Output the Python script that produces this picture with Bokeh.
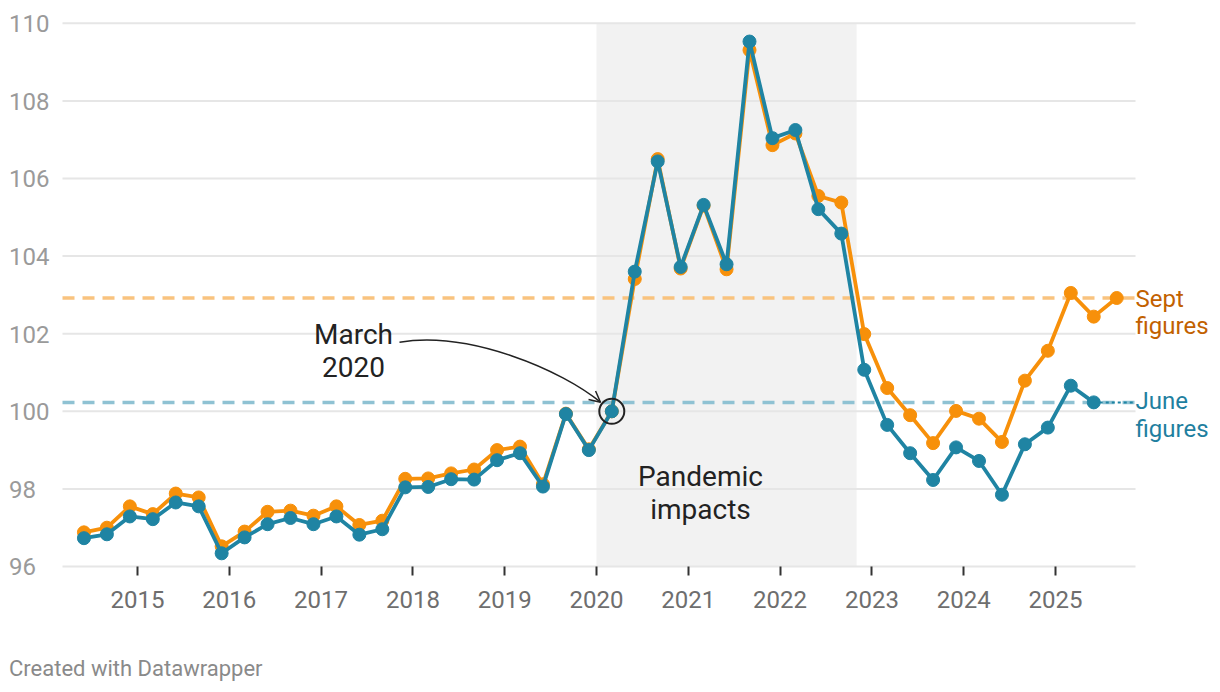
from bokeh.plotting import figure
from bokeh.models import (ColumnDataSource, FixedTicker, Label, BoxAnnotation,
                          Arrow, OpenHead)
from bokeh.embed import file_html
from bokeh.resources import INLINE

# ---------------- data ----------------
DATES = [
    "2014-06", "2014-09", "2014-12",
    "2015-03", "2015-06", "2015-09", "2015-12",
    "2016-03", "2016-06", "2016-09", "2016-12",
    "2017-03", "2017-06", "2017-09", "2017-12",
    "2018-03", "2018-06", "2018-09", "2018-12",
    "2019-03", "2019-06", "2019-09", "2019-12",
    "2020-03", "2020-06", "2020-09", "2020-12",
    "2021-03", "2021-06", "2021-09", "2021-12",
    "2022-03", "2022-06", "2022-09", "2022-12",
    "2023-03", "2023-06", "2023-09", "2023-12",
    "2024-03", "2024-06", "2024-09", "2024-12",
    "2025-03", "2025-06", "2025-09",
]
SEPT_FIGURES = [
    96.88, 97.00, 97.55, 97.35, 97.88, 97.78, 96.52, 96.90, 97.41, 97.44,
    97.31, 97.55, 97.07, 97.18, 98.26, 98.27, 98.40, 98.50, 99.00, 99.09,
    98.12, 99.94, 99.02, 100.00, 103.41, 106.50, 103.68, 105.30, 103.66, 109.31,
    106.86, 107.16, 105.55, 105.38, 101.99, 100.60, 99.90, 99.18, 100.01, 99.81,
    99.21, 100.79, 101.56, 103.05, 102.44, 102.92,
]
JUNE_FIGURES = [
    96.73, 96.83, 97.29, 97.22, 97.65, 97.55, 96.34, 96.75, 97.09, 97.25,
    97.09, 97.29, 96.82, 96.96, 98.04, 98.05, 98.25, 98.24, 98.74, 98.92,
    98.06, 99.93, 99.00, 100.00, 103.60, 106.44, 103.72, 105.32, 103.79, 109.53,
    107.04, 107.25, 105.21, 104.58, 101.07, 99.65, 98.92, 98.23, 99.07, 98.72,
    97.85, 99.15, 99.58, 100.66, 100.23,
]
Y_TICKS = [96, 98, 100, 102, 104, 106, 108, 110]
Y_TICK_LABELS = ["96", "98", "100", "102", "104", "106", "108", "110"]
X_TICKS = [2015, 2016, 2017, 2018, 2019, 2020, 2021, 2022, 2023, 2024, 2025]
X_TICK_LABELS = ["2015", "2016", "2017", "2018", "2019", "2020",
                 "2021", "2022", "2023", "2024", "2025"]
PANDEMIC_START = "2020-01"
PANDEMIC_END = "2022-11"
HIGHLIGHT_DATE = "2020-03"


def to_year(d):
    y, m = d.split("-")
    return int(y) + (int(m) - 1) / 12


x_sept = [to_year(d) for d in DATES]
x_june = x_sept[:len(JUNE_FIGURES)]

FONT = "Roboto"
ORANGE = "#f7900a"
BLUE = "#1f84a3"
ORANGE_LIGHT = "#f9c37f"
BLUE_LIGHT = "#8fc2d3"
SEPT_TEXT = "#c26100"
JUNE_TEXT = "#1f7fa0"
INK = "#222222"

# layout helpers (canvas pixel -> data, used for annotation placement only)
W, H = 1220, 692
PX_YEAR = 91.8
PX_UNIT = 38.8


def yr(sx):
    return 2015 + (sx - 137) / PX_YEAR


def val(sy):
    return 96 + (566 - sy) / PX_UNIT


PLOT_L, PLOT_R = yr(62), yr(1135)

p = figure(width=W, height=H,
           x_range=(yr(0), yr(W)), y_range=(val(H), val(0)),
           output_backend="svg", toolbar_location=None,
           y_axis_location=None,
           min_border_left=0, min_border_right=0,
           min_border_top=0, min_border_bottom=0)
p.outline_line_color = None
p.background_fill_color = "white"
p.border_fill_color = "white"
p.xgrid.visible = False
p.ygrid.visible = False

# x axis fixed at the 96 baseline
xa = p.xaxis[0]
xa.fixed_location = Y_TICKS[0]
xa.ticker = FixedTicker(ticks=X_TICKS)
xa.major_label_overrides = {t: lab for t, lab in zip(X_TICKS, X_TICK_LABELS)}
xa.axis_line_color = None
xa.major_tick_line_color = "#333333"
xa.major_tick_line_width = 2
xa.major_tick_in = 0
xa.major_tick_out = 9
xa.minor_tick_line_color = None
xa.major_label_text_font = FONT
xa.major_label_text_font_size = "24px"
xa.major_label_text_color = "#6e6e6e"
xa.major_label_standoff = 15

# pandemic shading
p.add_layout(BoxAnnotation(left=to_year(PANDEMIC_START), right=to_year(PANDEMIC_END),
                           bottom=Y_TICKS[0], top=Y_TICKS[-1],
                           fill_color="#f2f2f2", fill_alpha=1.0, line_color=None,
                           level="image"))

# horizontal grid lines
p.segment(x0=[PLOT_L] * len(Y_TICKS), x1=[PLOT_R] * len(Y_TICKS),
          y0=Y_TICKS, y1=Y_TICKS, line_color="#e6e6e6", line_width=2, level="underlay")

# reference dashed lines at latest values
p.segment(x0=[PLOT_L, PLOT_L], x1=[PLOT_R, PLOT_R],
          y0=[SEPT_FIGURES[-1], JUNE_FIGURES[-1]], y1=[SEPT_FIGURES[-1], JUNE_FIGURES[-1]],
          line_color=[ORANGE_LIGHT, BLUE_LIGHT], line_width=3.5, line_dash="12 8",
          level="underlay")

# series
src_s = ColumnDataSource(dict(x=x_sept, y=SEPT_FIGURES))
src_j = ColumnDataSource(dict(x=x_june, y=JUNE_FIGURES))
p.line("x", "y", source=src_s, line_color=ORANGE, line_width=3.8)
p.scatter("x", "y", source=src_s, size=13, fill_color=ORANGE, line_color=ORANGE)
p.line([x_june[-1], yr(1134)], [JUNE_FIGURES[-1], JUNE_FIGURES[-1]],
       line_color=BLUE, line_width=2, line_dash="3 3")
p.line("x", "y", source=src_j, line_color=BLUE, line_width=3.8)
p.scatter("x", "y", source=src_j, size=13, fill_color=BLUE, line_color=BLUE)

# highlight circle on March 2020
hi = DATES.index(HIGHLIGHT_DATE)
p.scatter([x_june[hi]], [JUNE_FIGURES[hi]], marker="circle", size=25,
          fill_color=None, line_color=INK, line_width=2)

# curved arrow from "March 2020" text
p.bezier(x0=[yr(399)], y0=[val(341.7)], x1=[yr(600)], y1=[val(401.7)],
         cx0=[yr(469)], cy0=[val(330)], cx1=[yr(562)], cy1=[val(370)],
         line_color=INK, line_width=1.5)
p.add_layout(Arrow(end=OpenHead(size=11, line_color=INK, line_width=1.5),
                   x_start=yr(592.3), y_start=val(395.3),
                   x_end=yr(600), y_end=val(401.7), line_alpha=0))


def add_label(sx, sy, text, size_px, color, align="left"):
    # sy is the desired baseline in canvas pixels; compensate renderer baseline shift
    sy_adj = sy - 0.35 * size_px
    p.add_layout(Label(x=yr(sx), y=val(sy_adj), text=text, text_font=FONT,
                       text_font_size=f"{size_px}px", text_color=color,
                       text_align=align, text_baseline="alphabetic"))


# y tick labels (left aligned, vertically centred on grid lines)
for v, lab in zip(Y_TICKS, Y_TICK_LABELS):
    add_label(8.5, 566 - (v - 96) * PX_UNIT + 8.7, lab, 24, "#9a9a9a")

# annotations
add_label(353, 344, "March", 28, INK, "center")
add_label(353, 376.7, "2020", 28, INK, "center")
add_label(700, 486, "Pandemic", 28, INK, "center")
add_label(700, 519, "impacts", 28, INK, "center")

# line labels
add_label(1135, 306.7, "Sept", 24, SEPT_TEXT)
add_label(1135, 333.5, "figures", 24, SEPT_TEXT)
add_label(1135, 409.3, "June", 24, JUNE_TEXT)
add_label(1135, 436.7, "figures", 24, JUNE_TEXT)

# footer
add_label(8.5, 676, "Created with Datawrapper", 22, "#8a8a8a")

open("out.html", "w").write(file_html(p, INLINE))
